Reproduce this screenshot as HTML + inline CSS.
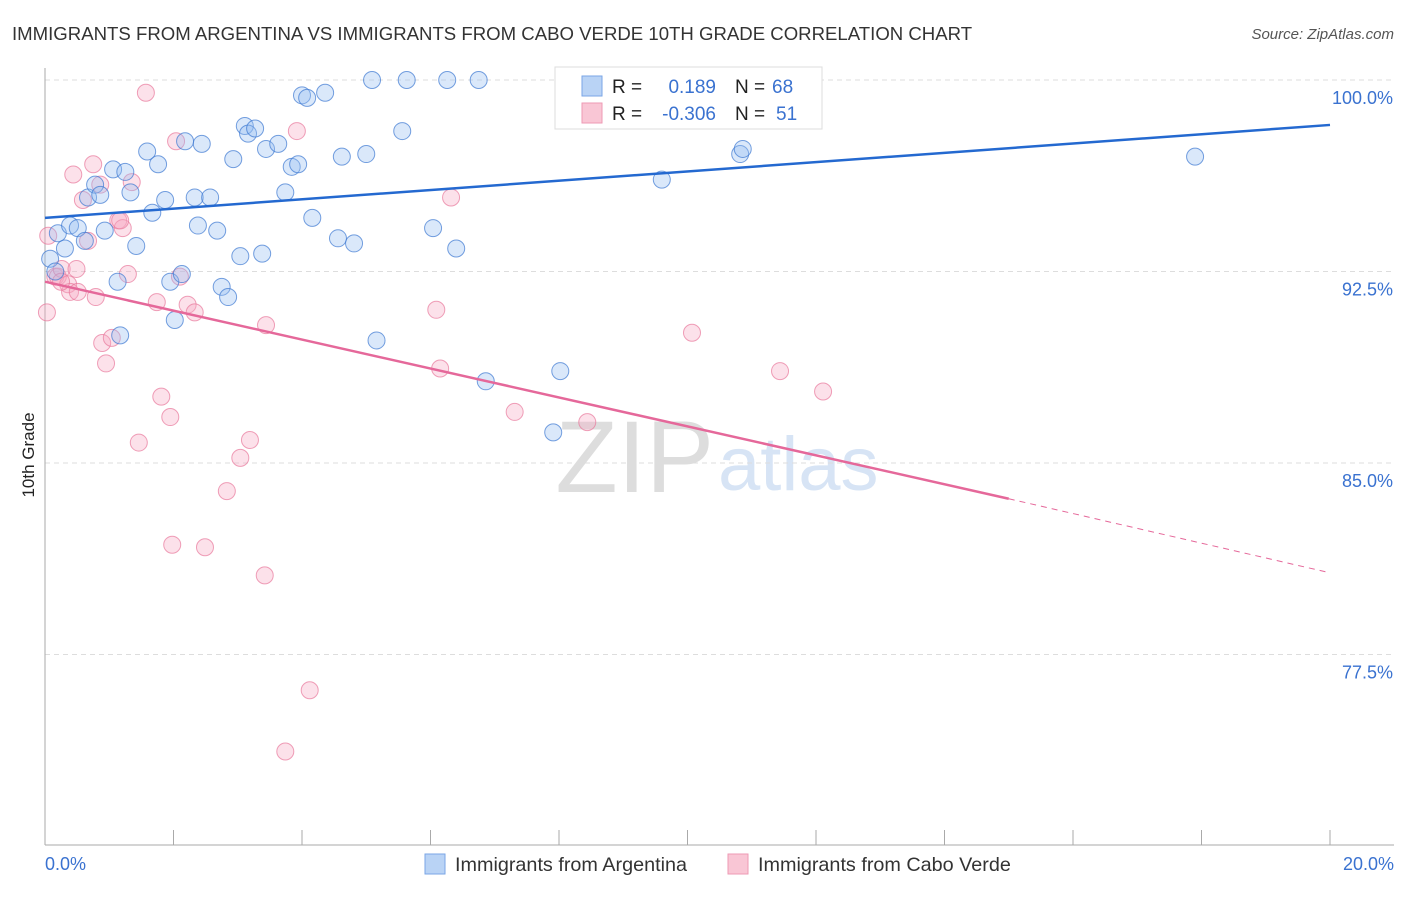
<!DOCTYPE html>
<html><head><meta charset="utf-8"><style>
body{margin:0;background:#fff;font-family:"Liberation Sans",sans-serif;}
svg text{font-family:"Liberation Sans",sans-serif;}
</style></head><body>
<svg id="chart" width="1406" height="892" xmlns="http://www.w3.org/2000/svg">
<text x="12" y="40" font-size="18.6" fill="#333">IMMIGRANTS FROM ARGENTINA VS IMMIGRANTS FROM CABO VERDE 10TH GRADE CORRELATION CHART</text>
<text x="1394" y="39" font-size="15" fill="#555" font-style="italic" text-anchor="end">Source: ZipAtlas.com</text>
<text transform="translate(34,455) rotate(-90)" font-size="17" fill="#222" text-anchor="middle">10th Grade</text>
<text x="714" y="492" font-size="102" fill="#ddd" font-family="Liberation Serif" text-anchor="end">ZIP</text>
<text x="718" y="490" font-size="76" fill="#d7e4f5">atlas</text>
<g id="grid"></g><g id="marks"></g>
<g>
<rect x="555" y="67" width="267" height="62" fill="#fff" stroke="#ddd"/>
<rect x="582" y="76" width="20" height="20" fill="#b9d3f5" stroke="#7aa6e6"/>
<rect x="582" y="103" width="20" height="20" fill="#f9c6d5" stroke="#ee9ab4"/>
<text x="612" y="93" font-size="19" fill="#222">R =</text>
<text x="716" y="93" font-size="19" fill="#3a72d0" text-anchor="end">0.189</text>
<text x="735" y="93" font-size="19" fill="#222">N =</text>
<text x="772" y="93" font-size="19" fill="#3a72d0">68</text>
<text x="612" y="120" font-size="19" fill="#222">R =</text>
<text x="716" y="120" font-size="19" fill="#3a72d0" text-anchor="end">-0.306</text>
<text x="735" y="120" font-size="19" fill="#222">N =</text>
<text x="776" y="120" font-size="19" fill="#3a72d0">51</text>
</g>
<g>
<rect x="425" y="854" width="20" height="20" fill="#b9d3f5" stroke="#7aa6e6"/>
<text x="455" y="871" font-size="19.8" fill="#333">Immigrants from Argentina</text>
<rect x="728" y="854" width="20" height="20" fill="#f9c6d5" stroke="#ee9ab4"/>
<text x="758" y="871" font-size="19.8" fill="#333">Immigrants from Cabo Verde</text>
</g>
</svg>
<script>
const yTicks=[100,92.5,85,77.5];
const yTickLabels=["100.0%","92.5%","85.0%","77.5%"];
const xTickLabels=["0.0%","20.0%"];
const blueX=[0.08,0.16,0.2,0.31,0.39,0.51,0.62,0.67,0.78,0.86,0.93,1.06,1.17,1.13,1.25,1.33,1.42,1.59,1.67,1.76,1.87,1.95,2.02,2.13,2.18,2.33,2.38,2.44,2.57,2.68,2.75,2.85,2.93,3.04,3.11,3.16,3.27,3.38,3.44,3.63,3.74,3.84,3.94,4.0,4.08,4.16,4.36,4.56,4.62,4.81,5.0,5.09,5.16,5.56,5.63,6.04,6.26,6.4,6.75,6.86,7.91,8.02,8.2,8.95,9.6,10.82,10.86,17.9];
const blueY=[93.0,92.5,94.0,93.4,94.3,94.2,93.7,95.4,95.9,95.5,94.1,96.5,90.0,92.1,96.4,95.6,93.5,97.2,94.8,96.7,95.3,92.1,90.6,92.4,97.6,95.4,94.3,97.5,95.4,94.1,91.9,91.5,96.9,93.1,98.2,97.9,98.1,93.2,97.3,97.5,95.6,96.6,96.7,99.4,99.3,94.6,99.5,93.8,97.0,93.6,97.1,100,89.8,98.0,100,94.2,100,93.4,100,88.2,86.2,88.6,100,100,96.1,97.1,97.3,97.0];
const redX=[0.03,0.05,0.16,0.2,0.26,0.36,0.39,0.44,0.51,0.59,0.67,0.75,0.79,0.86,0.89,0.95,1.04,1.14,1.21,1.29,1.35,1.46,1.57,1.74,1.81,1.95,1.98,2.04,2.1,2.22,2.33,2.49,2.83,3.04,3.19,3.42,3.44,3.92,4.12,3.74,0.25,6.09,6.15,6.32,7.31,8.44,10.07,11.44,12.11,1.17,0.49];
const redY=[90.9,93.9,92.3,92.3,92.6,92.0,91.7,96.3,91.7,95.3,93.7,96.7,91.5,95.9,89.7,88.9,89.9,94.5,94.2,92.4,96.0,85.8,99.5,91.3,87.6,86.8,81.8,97.6,92.3,91.2,90.9,81.7,83.9,85.2,85.9,80.6,90.4,98.0,76.1,73.7,92.1,91.0,88.7,95.4,87.0,86.6,90.1,88.6,87.8,94.5,92.6];
const blueTrend=[0,94.6,20,98.24];
const redTrend=[0,92.1,15.0,83.6,20,80.7];
const NS="http://www.w3.org/2000/svg";
const X0=45,X1=1330,Y100=80,PER=191.5/7.5;
const xs=v=>X0+v/20*(X1-X0);
const ys=v=>Y100+(100-v)*PER;
function mk(tag,at,parent){const e=document.createElementNS(NS,tag);for(const k in at)e.setAttribute(k,at[k]);parent.appendChild(e);return e;}
const grid=document.getElementById('grid'),marks=document.getElementById('marks');
yTicks.forEach((t,i)=>{
 const l=mk('line',{x1:X0,x2:1394,y1:ys(t),y2:ys(t),stroke:'#ddd','stroke-dasharray':'5,4'},grid);
 
 
 const tx=mk('text',{x:1393,y:ys(t)+24,'font-size':18,fill:'#3a72d0','text-anchor':'end'},grid);
 tx.textContent=yTickLabels[i];
 
 
});
const ax=mk('line',{x1:X0,x2:X0,y1:68,y2:845,stroke:'#aaa'},grid);


const bx=mk('line',{x1:X0,x2:1394,y1:845,y2:845,stroke:'#aaa'},grid);


for(let i=0;i<=10;i++){const t=mk('line',{x1:xs(i*2),x2:xs(i*2),y1:830,y2:845,stroke:'#aaa'},grid);
 
 }
[[0,'start',45],[20,'end',1394]].forEach((a,i)=>{const t=mk('text',{x:a[2],y:870,'font-size':18,fill:'#3a72d0','text-anchor':a[1]},grid);t.textContent=xTickLabels[i];
 
 });
redX.forEach((x,i)=>{const c=mk('circle',{cx:xs(x),cy:ys(redY[i]),r:8.5,fill:'rgba(246,170,195,0.35)',stroke:'rgba(232,120,155,0.7)','stroke-width':1},marks);
 
 });
blueX.forEach((x,i)=>{const c=mk('circle',{cx:xs(x),cy:ys(blueY[i]),r:8.5,fill:'rgba(150,190,240,0.35)',stroke:'rgba(60,120,210,0.7)','stroke-width':1},marks);
 
 });
const bl=mk('line',{x1:xs(blueTrend[0]),y1:ys(blueTrend[1]),x2:xs(blueTrend[2]),y2:ys(blueTrend[3]),stroke:'#2469d0','stroke-width':2.5},marks);


const rl=mk('line',{x1:xs(redTrend[0]),y1:ys(redTrend[1]),x2:xs(redTrend[2]),y2:ys(redTrend[3]),stroke:'#e5689a','stroke-width':2.5},marks);


const rd=mk('line',{x1:xs(redTrend[2]),y1:ys(redTrend[3]),x2:xs(redTrend[4]),y2:ys(redTrend[5]),stroke:'#e5689a','stroke-width':1,'stroke-dasharray':'6,5'},marks);


</script>
</body></html>
